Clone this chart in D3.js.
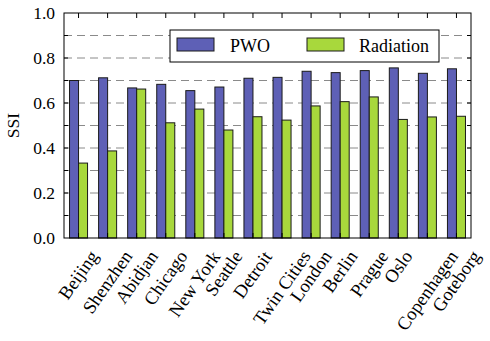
<!DOCTYPE html>
<html><head><meta charset="utf-8">
<script src="https://cdn.jsdelivr.net/npm/d3@7"></script>
<style>body{margin:0;background:#fff}svg{display:block}</style>
</head><body><svg id="c" width="490" height="341"></svg>
<script>
const cities = ["Beijing","Shenzhen","Abidjan","Chicago","New York","Seattle","Detroit","Twin Cities","London","Berlin","Prague","Oslo","Copenhagen","Goteborg"];
const pwo = [0.700,0.712,0.667,0.683,0.655,0.671,0.710,0.714,0.741,0.735,0.744,0.756,0.732,0.752];
const radiation = [0.333,0.387,0.662,0.512,0.573,0.480,0.539,0.524,0.587,0.606,0.627,0.527,0.538,0.541];
const seriesNames = ["PWO","Radiation"];
const yTicks = [0.0,0.2,0.4,0.6,0.8,1.0];
const yMinor = [0.1,0.2,0.3,0.4,0.5,0.6,0.7,0.8,0.9];

const FONT = "Liberation Serif";
const colors = {PWO:"#5e60b6", Radiation:"#a8d83c"};
const svg = d3.select("#c");
const L=64, R=471, T=13, B=238;
const x = d3.scaleBand().domain(cities).range([L,R]).padding(0);
const y = d3.scaleLinear().domain([0,1]).range([B,T]);
const bw = x.bandwidth()*0.31;
const fs = 17.5;
const txt = (sel)=>sel.attr("font-family",FONT).style("font-family","'Liberation Serif', serif","important");

svg.append("g").selectAll("line").data(yMinor).join("line")
  .attr("x1",L).attr("x2",R).attr("y1",d=>y(d)).attr("y2",d=>y(d))
  .attr("stroke","#8a8a8a").attr("stroke-width",1).attr("stroke-dasharray","8,5");

const data = [pwo, radiation];
seriesNames.forEach((s,si)=>{
  svg.append("g").selectAll("rect").data(cities).join("rect")
    .attr("x",d=>x(d)+x.bandwidth()/2 - bw + si*bw)
    .attr("y",(d,i)=>y(data[si][i]))
    .attr("width",bw)
    .attr("height",(d,i)=>y(0)-y(data[si][i]))
    .attr("fill",colors[s]).attr("stroke","#1a1a1a").attr("stroke-width",1);
});

svg.append("rect").attr("x",L).attr("y",T).attr("width",R-L).attr("height",B-T)
  .attr("fill","none").attr("stroke","#000").attr("stroke-width",1);

const yt = svg.append("g");
yMinor.forEach(v=>{
  yt.append("line").attr("x1",L).attr("x2",L+4).attr("y1",y(v)).attr("y2",y(v)).attr("stroke","#000");
  yt.append("line").attr("x1",R).attr("x2",R-4).attr("y1",y(v)).attr("y2",y(v)).attr("stroke","#000");
});
cities.forEach(c=>{
  const cx = x(c)+x.bandwidth()/2;
  yt.append("line").attr("x1",cx).attr("x2",cx).attr("y1",T).attr("y2",T+5).attr("stroke","#000");
  yt.append("line").attr("x1",cx).attr("x2",cx).attr("y1",B).attr("y2",B-5).attr("stroke","#000");
});

svg.append("g").selectAll("text").data(yTicks).join("text")
  .attr("x",L-9).attr("y",d=>y(d)).attr("dy","0.35em")
  .attr("text-anchor","end").attr("font-size",fs).call(txt).text(d=>d.toFixed(1));

svg.append("text").attr("transform",`translate(19,${(T+B)/2}) rotate(-90)`)
  .attr("text-anchor","middle").attr("font-size",fs).call(txt).text("SSI");

cities.forEach(c=>{
  const cx = x(c)+x.bandwidth()/2;
  const g = svg.append("g");
  g.append("text").attr("text-anchor","end").attr("font-size",18.5).call(txt)
    .attr("transform","rotate(-55)").text(c);
  const bb = g.node().getBBox();
  g.attr("transform",`translate(${cx-(bb.x+bb.width/2)},${247-bb.y})`);
});

const lg = svg.append("g");
lg.append("rect").attr("x",170).attr("y",30).attr("width",269).attr("height",32)
  .attr("fill","#fff").attr("stroke","#000").attr("stroke-width",1);
const legX = [177, 307];
seriesNames.forEach((s,i)=>{
  lg.append("rect").attr("x",legX[i]).attr("y",38).attr("width",37).attr("height",13)
    .attr("fill",colors[s]).attr("stroke","#1a1a1a");
  lg.append("text").attr("x",legX[i]+(i===0?53:52)).attr("y",51.5).attr("font-size",18).call(txt).text(s);
});
</script></body></html>
